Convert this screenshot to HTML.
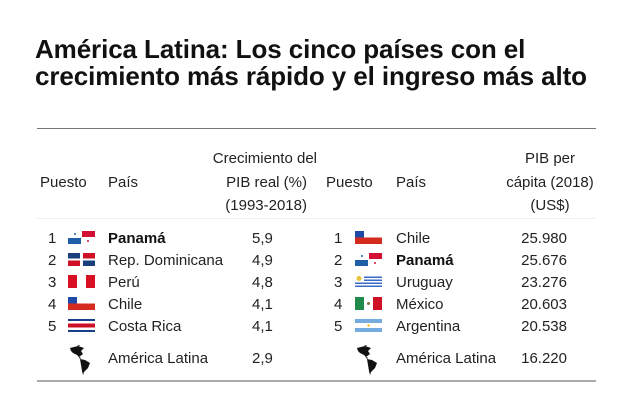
<!DOCTYPE html>
<html><head><meta charset="utf-8"><style>
body{margin:0;width:630px;height:400px;background:#fff;position:relative;overflow:hidden;font-family:"Liberation Sans",sans-serif;color:#222}
.t{position:absolute;left:35px;font-weight:bold;font-size:26px;letter-spacing:-0.1px;color:#111;white-space:nowrap;line-height:27px}
.a{position:absolute;font-size:15px;white-space:nowrap;line-height:16px;color:#222}
.r{text-align:right}
.c{text-align:center}
.b{font-weight:bold;color:#111}
.f{position:absolute;width:27px;height:13px;overflow:hidden}
</style></head><body>
<div class="t" style="top:36px">América Latina: Los cinco países con el</div>
<div class="t" style="top:63px">crecimiento más rápido y el ingreso más alto</div>
<div style="position:absolute;left:37px;top:128px;width:559px;height:1px;background:#777"></div>
<div style="position:absolute;left:37px;top:218px;width:559px;height:1px;background:#eee"></div>
<div style="position:absolute;left:37px;top:380px;width:559px;height:2px;background:#aaa"></div>

<div class="a" style="left:40px;top:175px">Puesto</div>
<div class="a" style="left:108px;top:175px">País</div>
<div class="a r" style="left:180px;width:137px;top:151px">Crecimiento del</div>
<div class="a r" style="left:180px;width:127px;top:175px">PIB real (%)</div>
<div class="a r" style="left:180px;width:127px;top:198px">(1993-2018)</div>
<div class="a" style="left:326px;top:175px">Puesto</div>
<div class="a" style="left:396px;top:175px">País</div>
<div class="a c" style="left:500px;width:100px;top:151px">PIB per</div>
<div class="a c" style="left:500px;width:100px;top:175px">cápita (2018)</div>
<div class="a c" style="left:500px;width:100px;top:198px">(US$)</div>

<div class="a" style="left:48px;top:231px">1</div><div class="a" style="left:48px;top:253px">2</div><div class="a" style="left:48px;top:275px">3</div><div class="a" style="left:48px;top:297px">4</div><div class="a" style="left:48px;top:319px">5</div>
<div class="a b" style="left:108px;top:231px">Panamá</div>
<div class="a" style="left:108px;top:253px">Rep. Dominicana</div>
<div class="a" style="left:108px;top:275px">Perú</div>
<div class="a" style="left:108px;top:297px">Chile</div>
<div class="a" style="left:108px;top:319px">Costa Rica</div>
<div class="a" style="left:108px;top:351px">América Latina</div>
<div class="a" style="left:252px;top:231px">5,9</div><div class="a" style="left:252px;top:253px">4,9</div><div class="a" style="left:252px;top:275px">4,8</div><div class="a" style="left:252px;top:297px">4,1</div><div class="a" style="left:252px;top:319px">4,1</div><div class="a" style="left:252px;top:351px">2,9</div>

<div class="a" style="left:334px;top:231px">1</div><div class="a" style="left:334px;top:253px">2</div><div class="a" style="left:334px;top:275px">3</div><div class="a" style="left:334px;top:297px">4</div><div class="a" style="left:334px;top:319px">5</div>
<div class="a" style="left:396px;top:231px">Chile</div>
<div class="a b" style="left:396px;top:253px">Panamá</div>
<div class="a" style="left:396px;top:275px">Uruguay</div>
<div class="a" style="left:396px;top:297px">México</div>
<div class="a" style="left:396px;top:319px">Argentina</div>
<div class="a" style="left:396px;top:351px">América Latina</div>
<div class="a r" style="left:500px;width:67px;top:231px">25.980</div>
<div class="a r" style="left:500px;width:67px;top:253px">25.676</div>
<div class="a r" style="left:500px;width:67px;top:275px">23.276</div>
<div class="a r" style="left:500px;width:67px;top:297px">20.603</div>
<div class="a r" style="left:500px;width:67px;top:319px">20.538</div>
<div class="a r" style="left:500px;width:67px;top:351px">16.220</div>

<svg class="f" style="left:68px;top:231px" viewBox="0 0 27 13"><rect x="14" y="0" width="13" height="6" fill="#d21034"/><rect x="0" y="7" width="13" height="6" fill="#1f5fa8"/><circle cx="7" cy="3" r="1" fill="#1f5fa8"/><circle cx="20" cy="10" r="1" fill="#d21034"/></svg>
<svg class="f" style="left:68px;top:253px" viewBox="0 0 27 13"><rect width="27" height="13" fill="#fff"/><rect x="0" y="0" width="12" height="5.5" fill="#1a3f7a"/><rect x="15" y="0" width="12" height="5.5" fill="#ce1126"/><rect x="0" y="7.5" width="12" height="5.5" fill="#ce1126"/><rect x="15" y="7.5" width="12" height="5.5" fill="#1a3f7a"/></svg>
<svg class="f" style="left:68px;top:275px" viewBox="0 0 27 13"><rect width="27" height="13" fill="#fff"/><rect width="9" height="13" fill="#d91023"/><rect x="18" width="9" height="13" fill="#d91023"/></svg>
<svg class="f" style="left:68px;top:297px" viewBox="0 0 27 13"><rect width="27" height="13" fill="#fff"/><rect y="6.5" width="27" height="6.5" fill="#d52b1e"/><rect width="9" height="6.5" fill="#1f4aa8"/></svg>
<svg class="f" style="left:68px;top:319px" viewBox="0 0 27 13"><rect width="27" height="13" fill="#fff"/><rect width="27" height="2" fill="#1a3f8a"/><rect y="11" width="27" height="2" fill="#1a3f8a"/><rect y="4.5" width="27" height="4" fill="#ce1126"/></svg>
<svg class="f" style="left:355px;top:231px" viewBox="0 0 27 13"><rect width="27" height="13" fill="#fff"/><rect y="6.5" width="27" height="6.5" fill="#d52b1e"/><rect width="9" height="6.5" fill="#1f4aa8"/></svg>
<svg class="f" style="left:355px;top:253px" viewBox="0 0 27 13"><rect x="14" y="0" width="13" height="6" fill="#d21034"/><rect x="0" y="7" width="13" height="6" fill="#1f5fa8"/><circle cx="7" cy="3" r="1" fill="#1f5fa8"/><circle cx="20" cy="10" r="1" fill="#d21034"/></svg>
<svg class="f" style="left:355px;top:275px" viewBox="0 0 27 13"><rect width="27" height="13" fill="#fff"/><rect x="9" y="1.5" width="18" height="1.5" fill="#3a6bc4"/><rect x="9" y="4.5" width="18" height="1.5" fill="#3a6bc4"/><rect y="7.5" width="27" height="1.5" fill="#3a6bc4"/><rect y="10.5" width="27" height="1.5" fill="#3a6bc4"/><circle cx="4" cy="3.5" r="2.5" fill="#e8c33a"/></svg>
<svg class="f" style="left:355px;top:297px" viewBox="0 0 27 13"><rect width="27" height="13" fill="#fff"/><rect width="9" height="13" fill="#1f8a4c"/><rect x="18" width="9" height="13" fill="#ce1126"/><circle cx="13.5" cy="6.5" r="1.5" fill="#8a6a3a"/></svg>
<svg class="f" style="left:355px;top:319px" viewBox="0 0 27 13"><rect width="27" height="13" fill="#fff"/><rect width="27" height="4" fill="#74acdf"/><rect y="9" width="27" height="4" fill="#74acdf"/><circle cx="13.5" cy="6.5" r="1.2" fill="#f6b40e"/></svg>
<svg style="position:absolute;left:68px;top:345px" width="26" height="30" viewBox="0 0 26 30"><path d="M2 3 L10 1 L16 3 L13 6 L15 9 L11 12 L9 10 L5 8 L3 6Z M9 0 L12 0 L11 1Z" fill="#111"/><path d="M12 14 L17 15 L22 18 L20 23 L16 27 L15 30 L14 26 L13 20Z" fill="#111"/><path d="M10 11 L13 13 L12 14Z" fill="#111"/></svg>
<svg style="position:absolute;left:355px;top:345px" width="26" height="30" viewBox="0 0 26 30"><path d="M2 3 L10 1 L16 3 L13 6 L15 9 L11 12 L9 10 L5 8 L3 6Z M9 0 L12 0 L11 1Z" fill="#111"/><path d="M12 14 L17 15 L22 18 L20 23 L16 27 L15 30 L14 26 L13 20Z" fill="#111"/><path d="M10 11 L13 13 L12 14Z" fill="#111"/></svg>
</body></html>
